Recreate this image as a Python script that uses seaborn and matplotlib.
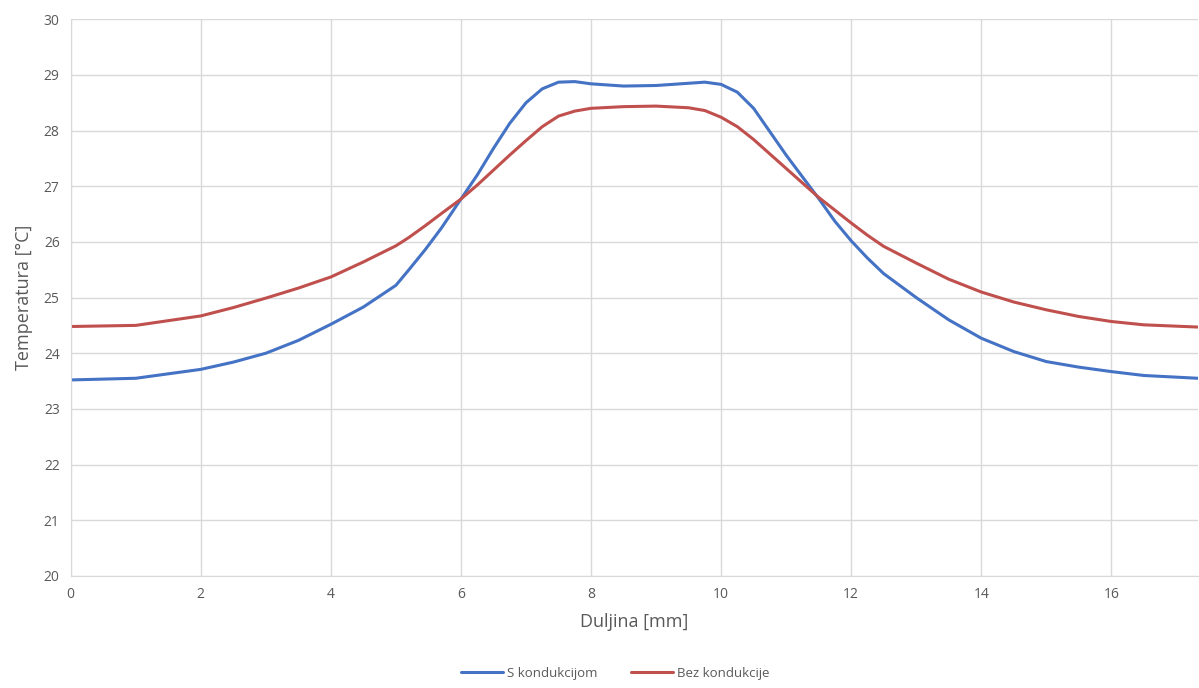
import pandas as pd
import matplotlib
matplotlib.use("Agg")
import matplotlib.pyplot as plt
import seaborn as sns

# Values
duljina = [0, 1, 2, 2.5, 3, 3.5, 4, 4.5, 5, 5.2, 5.45, 5.7, 6, 6.25, 6.5, 6.75,
           7, 7.25, 7.5, 7.75, 8, 8.5, 9, 9.5, 9.75, 10, 10.25, 10.5, 10.75,
           11, 11.25, 11.5, 11.75, 12, 12.25, 12.5, 13, 13.5, 14, 14.5, 15, 15.5,
           16, 16.5, 17.33]
s_kondukcijom = [23.52, 23.55, 23.71, 23.84, 24.00, 24.23, 24.52, 24.83, 25.22, 25.50,
                 25.86, 26.25, 26.77, 27.20, 27.68, 28.13,
                 28.50, 28.75, 28.87, 28.88, 28.84, 28.80, 28.81, 28.85, 28.87, 28.83,
                 28.69, 28.40, 27.98,
                 27.56, 27.17, 26.78, 26.37, 26.02, 25.71, 25.43, 25.00, 24.60, 24.27,
                 24.03, 23.85, 23.75,
                 23.67, 23.60, 23.55]
bez_kondukcije = [24.48, 24.50, 24.67, 24.82, 24.99, 25.17, 25.37, 25.64, 25.93, 26.08,
                  26.29, 26.51, 26.77, 27.02, 27.29, 27.56,
                  27.82, 28.07, 28.26, 28.35, 28.40, 28.43, 28.44, 28.41, 28.36, 28.24,
                  28.07, 27.84, 27.58,
                  27.32, 27.06, 26.80, 26.57, 26.34, 26.12, 25.92, 25.62, 25.33, 25.10,
                  24.92, 24.78, 24.66,
                  24.57, 24.51, 24.47]
series_names = ["S kondukcijom", "Bez kondukcije"]
colors = ["#4472C4", "#C0504D"]

df = pd.DataFrame({"x": duljina * 2,
                   "T": s_kondukcijom + bez_kondukcije,
                   "serija": [series_names[0]] * len(duljina) + [series_names[1]] * len(duljina)})

sns.set_style("white")
plt.rcParams["font.family"] = ["Open Sans", "DejaVu Sans"]

fig, ax = plt.subplots(figsize=(11.99, 6.88), dpi=100)
fig.subplots_adjust(left=0.059, right=0.999, top=0.972, bottom=0.163)

sns.lineplot(data=df, x="x", y="T", hue="serija", palette=colors, linewidth=2.2,
             sort=False, ax=ax, legend=True)
for line in ax.get_lines():
    line.set_solid_joinstyle("round")

ax.set_xlim(0, 17.33)
ax.set_ylim(20, 30)
ax.set_xticks(range(0, 17, 2))
ax.set_yticks(range(20, 31))
ax.grid(True, color="#D9D9D9", linewidth=1)
ax.set_axisbelow(True)
for side in ["top", "right"]:
    ax.spines[side].set_visible(False)
for side in ["left", "bottom"]:
    ax.spines[side].set_color("#D9D9D9")
ax.tick_params(length=0, labelsize=10, colors="#595959", pad=8)
ax.set_xlabel("Duljina [mm]", fontsize=13, color="#595959", labelpad=8)
ax.set_ylabel("Temperatura [°C]", fontsize=13, color="#595959", labelpad=8)

handles, labels = ax.get_legend_handles_labels()
ax.get_legend().remove()
fig.legend(handles, labels, loc="lower center", ncol=2, frameon=False,
           bbox_to_anchor=(0.513, -0.005), fontsize=9.5, labelcolor="#595959",
           handlelength=3.2, columnspacing=2.5, handletextpad=0.3)

plt.savefig("out.png", dpi=100)
